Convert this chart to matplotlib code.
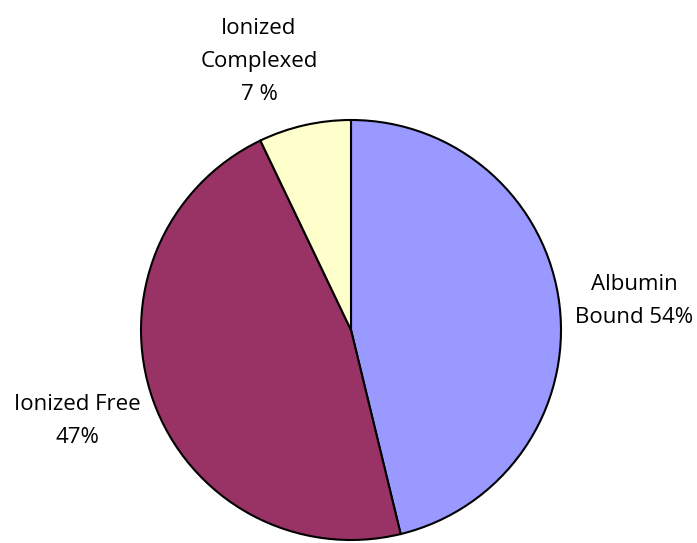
import matplotlib.pyplot as plt

# slice sizes and the label texts shown on the chart
labels = ['Albumin\nBound 54%', 'Ionized Free\n47%', 'Ionized\nComplexed\n7 %']
sizes = [46.2, 46.7, 7.1]
colors = ['#9999FF', '#993366', '#FFFFCC']

fig = plt.figure(figsize=(6.97, 5.43), dpi=100)
ax = fig.add_axes([0, 0, 1, 1])

ax.pie(sizes, colors=colors, startangle=90, counterclock=False,
       center=(351, 213), radius=210, frame=True,
       wedgeprops=dict(edgecolor='black', linewidth=1.5))
ax.set_xlim(0, 697)
ax.set_ylim(0, 543)
ax.set_aspect('equal')
ax.axis('off')

# label positions next to each slice
label_pos = [(634, 242), (77, 122), (259, 481)]
for txt, (x, y) in zip(labels, label_pos):
    ax.text(x, y, txt, ha='center', va='center', fontsize=16,
            family='Open Sans', linespacing=1.75)

fig.savefig('out.png', dpi=100)
